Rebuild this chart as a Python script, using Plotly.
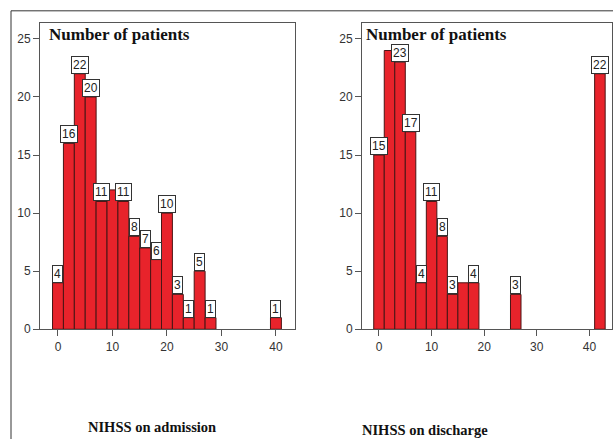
import plotly.graph_objects as go

# ---- data ----
adm_bins = [0, 2, 4, 6, 8, 10, 12, 14, 16, 18, 20, 22, 24, 26, 28, 40]
adm_counts = [4, 16, 22, 20, 11, 12, 11, 8, 7, 6, 10, 3, 1, 5, 1, 1]
adm_labels = ["4", "16", "22", "20", "11", None, "11", "8", "7", "6", "10", "3", "1", "5", "1", "1"]

dis_bins = [0, 2, 4, 6, 8, 10, 12, 14, 16, 18, 26, 42]
dis_counts = [15, 24, 23, 17, 4, 11, 8, 3, 4, 4, 3, 22]
dis_labels = ["15", None, "23", "17", "4", "11", "8", "3", None, "4", "3", "22"]

y_ticks = [0, 5, 10, 15, 20, 25]
x_ticks = [0, 10, 20, 30, 40]
y_title = "Number of patients"
x_titles = ["NIHSS on admission", "NIHSS on discharge"]

W, H = 613, 446
RED = "#e8232b"
EDGE = "#4a1515"
AX = "#555555"

def px(x):
    return x / W

def py(y):
    return 1 - y / H

fig = go.Figure()
fig.add_trace(go.Bar(x=adm_bins, y=adm_counts, width=2, xaxis="x", yaxis="y",
                     marker=dict(color=RED, line=dict(color=EDGE, width=1)), showlegend=False))
fig.add_trace(go.Bar(x=dis_bins, y=dis_counts, width=2, xaxis="x2", yaxis="y2",
                     marker=dict(color=RED, line=dict(color=EDGE, width=1)), showlegend=False))

annotations = []
for bins, counts, labels, xr, yr in [(adm_bins, adm_counts, adm_labels, "x", "y"),
                                      (dis_bins, dis_counts, dis_labels, "x2", "y2")]:
    for b, c, l in zip(bins, counts, labels):
        if l is None:
            continue
        annotations.append(dict(x=b, y=c, xref=xr, yref=yr, text=l, showarrow=False,
                                xanchor="center", yanchor="bottom",
                                bgcolor="white", bordercolor="#333333", borderwidth=1, borderpad=1,
                                font=dict(family="Liberation Sans", size=12, color="#222222")))

title_font = dict(family="Liberation Serif", size=17, color="#111111")
annotations.append(dict(x=px(47), y=py(35), xref="paper", yref="paper", text="<b>%s</b>" % y_title,
                        showarrow=False, xanchor="left", yanchor="middle", font=title_font))
annotations.append(dict(x=px(364), y=py(35), xref="paper", yref="paper", text="<b>%s</b>" % y_title,
                        showarrow=False, xanchor="left", yanchor="middle", font=title_font))
xt_font = dict(family="Liberation Serif", size=14.5, color="#111111")
annotations.append(dict(x=px(152), y=py(434), xref="paper", yref="paper", text="<b>%s</b>" % x_titles[0],
                        showarrow=False, xanchor="center", yanchor="middle", font=xt_font))
annotations.append(dict(x=px(425), y=py(437), xref="paper", yref="paper", text="<b>%s</b>" % x_titles[1],
                        showarrow=False, xanchor="center", yanchor="middle", font=xt_font))

tickfont = dict(family="Liberation Sans", size=12, color="#333333")
common_x = dict(tickvals=x_ticks, ticks="outside", ticklen=6, tickcolor=AX, showline=True,
                linecolor=AX, linewidth=1, mirror=True, showgrid=False, zeroline=False,
                tickfont=tickfont, fixedrange=True)
common_y = dict(tickvals=y_ticks, range=[0, 26.4], ticks="outside", ticklen=6, tickcolor=AX,
                showline=True, linecolor=AX, linewidth=1, mirror=True, showgrid=False,
                zeroline=False, tickfont=tickfont, fixedrange=True)

ydom = [py(334.5), py(23)]
fig.update_layout(
    width=W, height=H, margin=dict(l=0, r=0, t=0, b=0),
    paper_bgcolor="white", plot_bgcolor="white", bargap=0,
    xaxis=dict(domain=[px(40), px(295)], range=[-3.3, 43.5], anchor="y", **common_x),
    yaxis=dict(domain=ydom, anchor="x", **common_y),
    xaxis2=dict(domain=[px(362), px(612)], range=[-3.23, 44.3], anchor="y2", **common_x),
    yaxis2=dict(domain=ydom, anchor="x2", **common_y),
    annotations=annotations,
    shapes=[
        dict(type="line", xref="paper", yref="paper", x0=px(11), x1=1, y0=py(11), y1=py(11),
             line=dict(color="#333333", width=1)),
        dict(type="line", xref="paper", yref="paper", x0=px(11), x1=px(11), y0=py(11), y1=0,
             line=dict(color="#333333", width=1)),
    ],
)

fig.write_html("out.html", config={"displayModeBar": False, "staticPlot": True},
               post_script="document.body.style.margin='0';document.body.style.overflow='hidden';")
